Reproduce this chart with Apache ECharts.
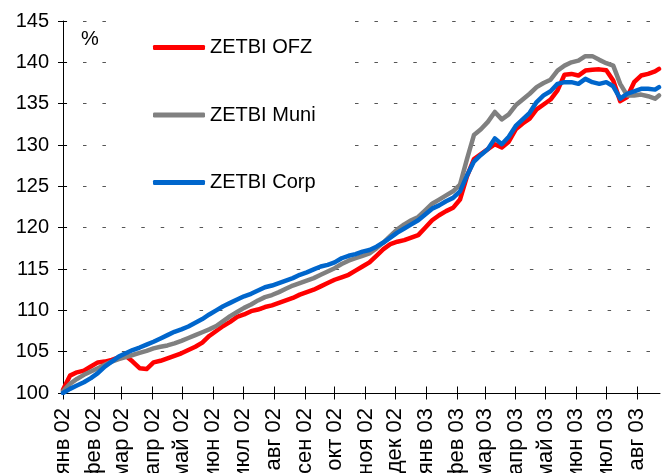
<!DOCTYPE html>
<html>
<head>
<meta charset="utf-8">
<script src="https://cdn.jsdelivr.net/npm/echarts@6/dist/echarts.min.js"></script>
<style>
html,body{margin:0;padding:0;background:#fff;}
#chart{width:667px;height:473px;}
</style>
</head>
<body>
<div id="chart"></div>
<script>
// ---- data ----
const startDate = '2002-01-01';
const endDate = '2003-08-24';
const monthNames = ['янв','фев','мар','апр','май','июн','июл','авг','сен','окт','ноя','дек'];
const seriesNames = ['ZETBI OFZ','ZETBI Muni','ZETBI Corp'];
const yTicks = {min:100, max:145, step:5};

const dates = [
 '2002-01-01','2002-01-08','2002-01-15','2002-01-22','2002-01-29','2002-02-05','2002-02-12','2002-02-19','2002-02-26','2002-03-05',
 '2002-03-12','2002-03-19','2002-03-26','2002-04-02','2002-04-09','2002-04-16','2002-04-23','2002-04-30','2002-05-07','2002-05-14',
 '2002-05-21','2002-05-28','2002-06-04','2002-06-11','2002-06-18','2002-06-25','2002-07-02','2002-07-09','2002-07-16','2002-07-23',
 '2002-07-30','2002-08-06','2002-08-13','2002-08-20','2002-08-27','2002-09-03','2002-09-10','2002-09-17','2002-09-24','2002-10-01',
 '2002-10-08','2002-10-15','2002-10-22','2002-10-29','2002-11-05','2002-11-12','2002-11-19','2002-11-26','2002-12-03','2002-12-10',
 '2002-12-17','2002-12-24','2002-12-31','2003-01-07','2003-01-14','2003-01-21','2003-01-28','2003-02-04','2003-02-11','2003-02-18',
 '2003-02-25','2003-03-04','2003-03-11','2003-03-18','2003-03-25','2003-04-01','2003-04-08','2003-04-15','2003-04-22','2003-04-29',
 '2003-05-06','2003-05-13','2003-05-20','2003-05-27','2003-06-03','2003-06-10','2003-06-17','2003-06-24','2003-07-01','2003-07-08',
 '2003-07-15','2003-07-22','2003-07-29','2003-08-05','2003-08-12','2003-08-19','2003-08-23'
];

const ofz = [
 100.4,102.1,102.5,102.7,103.2,103.7,103.8,104.0,104.3,104.5,
 103.8,103.0,102.9,103.7,103.9,104.2,104.5,104.8,105.2,105.6,
 106.1,106.9,107.5,108.1,108.6,109.2,109.5,109.9,110.1,110.4,
 110.6,110.9,111.2,111.5,111.9,112.2,112.5,112.9,113.3,113.7,
 114.0,114.3,114.8,115.3,115.8,116.6,117.4,118.0,118.3,118.5,
 118.8,119.1,120.0,120.9,121.5,122.0,122.4,123.4,126.2,128.3,
 128.9,129.5,130.1,129.7,130.4,131.9,132.6,133.2,134.3,134.9,
 135.5,136.6,138.5,138.6,138.4,139.0,139.1,139.15,139.05,137.8,
 135.3,135.8,137.6,138.4,138.6,138.9,139.2
];

const muni = [
 100.2,101.1,101.7,102.2,102.6,103.0,103.4,103.8,104.1,104.35,
 104.6,104.85,105.1,105.4,105.6,105.75,106.0,106.3,106.65,107.0,
 107.35,107.7,108.1,108.7,109.3,109.8,110.3,110.7,111.2,111.6,
 111.85,112.2,112.6,113.0,113.3,113.6,113.9,114.3,114.7,115.1,
 115.6,116.0,116.3,116.6,116.9,117.5,118.2,119.0,119.8,120.4,
 120.9,121.3,122.1,122.9,123.4,123.9,124.4,125.2,128.3,131.2,
 131.9,132.8,134.0,133.1,133.7,134.8,135.5,136.2,137.0,137.5,
 137.9,139.0,139.6,140.0,140.2,140.75,140.75,140.3,139.9,139.6,
 137.4,136.0,136.0,136.1,135.9,135.6,136.0
];

const corp = [
 100.0,100.5,100.9,101.3,101.8,102.4,103.2,103.8,104.4,104.8,
 105.2,105.5,105.85,106.2,106.6,107.0,107.4,107.7,108.05,108.5,
 108.95,109.5,110.0,110.5,110.9,111.3,111.7,112.0,112.4,112.8,
 113.0,113.3,113.6,113.9,114.3,114.6,114.95,115.3,115.5,115.8,
 116.3,116.6,116.8,117.1,117.3,117.7,118.2,118.8,119.4,119.9,
 120.4,120.9,121.6,122.3,122.7,123.2,123.6,124.4,126.3,128.0,
 128.8,129.5,130.8,130.1,131.0,132.3,133.1,133.9,135.2,136.0,
 136.5,137.4,137.6,137.6,137.4,138.0,137.6,137.4,137.6,137.1,
 135.6,136.2,136.5,136.8,136.8,136.7,137.0
];

// ---- build daily category axis ----
const DAY = 86400000;
function toUTC(s){ const p = s.split('-'); return Date.UTC(+p[0], +p[1]-1, +p[2]); }
const t0 = toUTC(startDate), t1 = toUTC(endDate);
const days = [];
for (let t = t0; t <= t1; t += DAY) {
  const d = new Date(t);
  const m = d.getUTCMonth()+1, dd = d.getUTCDate();
  days.push(d.getUTCFullYear() + '-' + (m<10?'0':'') + m + '-' + (dd<10?'0':'') + dd);
}
function pairs(vals){ return dates.map((s,i)=>[Math.round((toUTC(s)-t0)/DAY), vals[i]]); }
const isMonthStart = (idx, val) => val.slice(8) === '01';
const fmt = (val) => monthNames[parseInt(val.slice(5,7),10)-1] + ' ' + val.slice(2,4);

const FONT = '"Liberation Sans", Arial, sans-serif';
const chart = echarts.init(document.getElementById('chart'), null, {renderer:'canvas'});
chart.setOption({
  animation: false,
  backgroundColor: '#ffffff',
  grid: {left: 63, right: 7, top: 21, bottom: 80, containLabel: false, outerBoundsMode: 'none'},
  legend: {
    orient: 'vertical',
    left: 118, top: 15,
    data: seriesNames,
    icon: 'roundRect',
    itemWidth: 52, itemHeight: 5,
    itemGap: 45.5,
    backgroundColor: '#ffffff',
    padding: [21.5, 32, 4, 35],
    textStyle: {color:'#000', fontSize: 20, fontFamily: FONT, lineHeight: 22, padding:[0,0,0,0]},
    selectedMode: false
  },
  graphic: [{
    type: 'text', left: 81, top: 29,
    style: {text: '%', fill: '#000', fontSize: 20, fontFamily: FONT}
  }],
  xAxis: [{
    type: 'category', data: days, boundaryGap: false, position: 'bottom',
    axisLine: {show: true, lineStyle: {color: '#000', width: 1}},
    axisTick: {show: true, inside: false, length: 6.5, interval: isMonthStart, lineStyle:{color:'#000'}},
    axisLabel: {show: true, interval: isMonthStart, formatter: fmt, rotate: 90, margin: 15,
      color: '#000', fontSize: 22, fontFamily: FONT},
    splitLine: {show: false}
  },{
    type: 'category', data: days, boundaryGap: false, position: 'bottom',
    axisLine: {show: false},
    axisTick: {show: true, inside: true, length: 6.5, interval: isMonthStart, lineStyle:{color:'#000'}},
    axisLabel: {show: false},
    splitLine: {show: false}
  }],
  yAxis: [{
    type: 'value', min: yTicks.min, max: yTicks.max, interval: yTicks.step, position: 'left',
    axisLine: {show: true, lineStyle: {color: '#000', width: 1}},
    axisTick: {show: true, inside: false, length: 5, lineStyle:{color:'#000'}},
    axisLabel: {color: '#000', fontSize: 20, fontFamily: FONT, margin: 14},
    splitLine: {show: true, lineStyle: {color: '#555', width: 1, type: [3.5, 15.93], dashOffset: 18.86}}
  },{
    type: 'value', min: yTicks.min, max: yTicks.max, interval: yTicks.step, position: 'left',
    axisLine: {show: false},
    axisTick: {show: true, inside: true, length: 4, lineStyle:{color:'#000'}},
    axisLabel: {show: false},
    splitLine: {show: false}
  }],
  series: [
    {name: seriesNames[0], type: 'line', data: pairs(ofz), showSymbol: false, symbol: 'none',
     lineStyle: {color: '#ff0000', width: 4.5, cap: 'round', join: 'round'}, itemStyle: {color: '#ff0000'}, z: 2},
    {name: seriesNames[1], type: 'line', data: pairs(muni), showSymbol: false, symbol: 'none',
     lineStyle: {color: '#808080', width: 4.5, cap: 'round', join: 'round'}, itemStyle: {color: '#808080'}, z: 3},
    {name: seriesNames[2], type: 'line', data: pairs(corp), showSymbol: false, symbol: 'none',
     lineStyle: {color: '#0066cc', width: 4.5, cap: 'round', join: 'round'}, itemStyle: {color: '#0066cc'}, z: 4}
  ]
});
</script>
</body>
</html>
